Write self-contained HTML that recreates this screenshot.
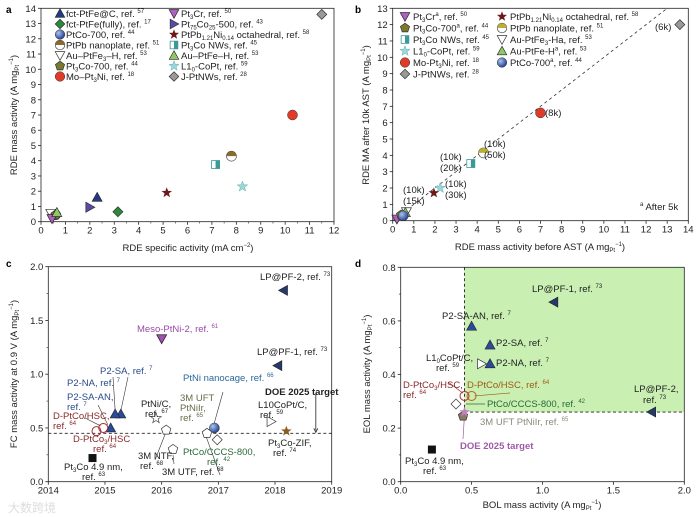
<!DOCTYPE html>
<html><head><meta charset="utf-8"><style>
html,body{margin:0;padding:0;background:#fff;}
svg{display:block;font-family:"Liberation Sans","Noto Sans CJK SC",sans-serif;}
.t{font-size:9.5px;fill:#222}
.tk{font-size:9.5px;fill:#222}
.lg{font-size:9.5px;fill:#222}
.s{font-size:6px}
</style></head><body>
<svg id="fig" width="700" height="517" viewBox="0 0 700 517" xmlns="http://www.w3.org/2000/svg">
<defs>
<radialGradient id="gBlue" cx="35%" cy="35%" r="70%"><stop offset="0" stop-color="#a8c4f0"/><stop offset="1" stop-color="#1f3a8a"/></radialGradient>
</defs>
<text x="6" y="13" font-size="10" font-weight="bold">a</text>
<text x="355" y="13" font-size="10" font-weight="bold">b</text>
<text x="6" y="267" font-size="10" font-weight="bold">c</text>
<text x="355" y="267" font-size="10" font-weight="bold">d</text>

<g id="dBg"></g>
<g id="axes"></g>
<g id="marks"></g>

<text class="t" x="188" y="251" text-anchor="middle">RDE specific activity (mA cm<tspan class="s" dy="-4">−2</tspan><tspan dy="4">)</tspan></text>
<text class="t" transform="translate(17,115) rotate(-90)" text-anchor="middle">RDE mass activity (A mg<tspan class="s" dy="2">Pt</tspan><tspan class="s" dy="-6">−1</tspan><tspan dy="4">)</tspan></text>
<text class="t" x="540" y="250" text-anchor="middle">RDE mass activity before AST (A mg<tspan class="s" dy="2">Pt</tspan><tspan class="s" dy="-6">−1</tspan><tspan dy="4">)</tspan></text>
<text class="t" transform="translate(369,115) rotate(-90)" text-anchor="middle">RDE MA after 10k AST (A mg<tspan class="s" dy="2">Pt</tspan><tspan class="s" dy="-6">−1</tspan><tspan dy="4">)</tspan></text>
<text class="t" transform="translate(17,374) rotate(-90)" text-anchor="middle">FC mass activity at 0.9 V (A mg<tspan class="s" dy="2">Pt</tspan><tspan class="s" dy="-6">−1</tspan><tspan dy="4">)</tspan></text>
<text class="t" x="542" y="508" text-anchor="middle">BOL mass activity (A mg<tspan class="s" dy="2">Pt</tspan><tspan class="s" dy="-6">−1</tspan><tspan dy="4">)</tspan></text>
<text class="t" transform="translate(370,374) rotate(-90)" text-anchor="middle">EOL mass activity (A mg<tspan class="s" dy="2">Pt</tspan><tspan class="s" dy="-6">−1</tspan><tspan dy="4">)</tspan></text>

<g class="lg">
<text x="66" y="17">fct-PtFe@C, ref. <tspan class="s" dy="-4">57</tspan></text>
<text x="66" y="27.5">fct-PtFe(fully), ref. <tspan class="s" dy="-4">17</tspan></text>
<text x="66" y="38">PtCo-700, ref. <tspan class="s" dy="-4">44</tspan></text>
<text x="66" y="48.5">PtPb nanoplate, ref. <tspan class="s" dy="-4">51</tspan></text>
<text x="66" y="59">Au–PtFe<tspan class="s" dy="2">3</tspan><tspan dy="-2">–H, ref. </tspan><tspan class="s" dy="-4">53</tspan></text>
<text x="66" y="69.5">Pt<tspan class="s" dy="2">3</tspan><tspan dy="-2">Co-700, ref. </tspan><tspan class="s" dy="-4">44</tspan></text>
<text x="66" y="80">Mo–Pt<tspan class="s" dy="2">3</tspan><tspan dy="-2">Ni, ref. </tspan><tspan class="s" dy="-4">18</tspan></text>
<text x="181" y="17">Pt<tspan class="s" dy="2">3</tspan><tspan dy="-2">Cr, ref. </tspan><tspan class="s" dy="-4">50</tspan></text>
<text x="181" y="27.5">Pt<tspan class="s" dy="2">75</tspan><tspan dy="-2">Co</tspan><tspan class="s" dy="2">25</tspan><tspan dy="-2">-500, ref. </tspan><tspan class="s" dy="-4">43</tspan></text>
<text x="181" y="38">PtPb<tspan class="s" dy="2">1.21</tspan><tspan dy="-2">Ni</tspan><tspan class="s" dy="2">0.14</tspan><tspan dy="-2"> octahedral, ref. </tspan><tspan class="s" dy="-4">58</tspan></text>
<text x="181" y="48.5">Pt<tspan class="s" dy="2">3</tspan><tspan dy="-2">Co NWs, ref. </tspan><tspan class="s" dy="-4">45</tspan></text>
<text x="181" y="59">Au–PtFe–H, ref. <tspan class="s" dy="-4">53</tspan></text>
<text x="181" y="69.5">L1<tspan class="s" dy="2">0</tspan><tspan dy="-2">-CoPt, ref. </tspan><tspan class="s" dy="-4">59</tspan></text>
<text x="181" y="80">J-PtNWs, ref. <tspan class="s" dy="-4">28</tspan></text>
</g>
<g class="lg">
<text x="413" y="20">Pt<tspan class="s" dy="2">3</tspan><tspan dy="-2">Cr</tspan><tspan class="s" dy="-4">a</tspan><tspan dy="4">, ref. </tspan><tspan class="s" dy="-4">50</tspan></text>
<text x="413" y="31.5">Pt<tspan class="s" dy="2">3</tspan><tspan dy="-2">Co-700</tspan><tspan class="s" dy="-4">a</tspan><tspan dy="4">, ref. </tspan><tspan class="s" dy="-4">44</tspan></text>
<text x="413" y="43">Pt<tspan class="s" dy="2">3</tspan><tspan dy="-2">Co NWs, ref. </tspan><tspan class="s" dy="-4">45</tspan></text>
<text x="413" y="54.5">L1<tspan class="s" dy="2">0</tspan><tspan dy="-2">-CoPt, ref. </tspan><tspan class="s" dy="-4">59</tspan></text>
<text x="413" y="66">Mo-Pt<tspan class="s" dy="2">3</tspan><tspan dy="-2">Ni, ref. </tspan><tspan class="s" dy="-4">18</tspan></text>
<text x="413" y="77.5">J-PtNWs, ref. <tspan class="s" dy="-4">28</tspan></text>
<text x="510" y="20">PtPb<tspan class="s" dy="2">1.21</tspan><tspan dy="-2">Ni</tspan><tspan class="s" dy="2">0.14</tspan><tspan dy="-2"> octahedral, ref. </tspan><tspan class="s" dy="-4">58</tspan></text>
<text x="510" y="31.5">PtPb nanoplate, ref. <tspan class="s" dy="-4">51</tspan></text>
<text x="510" y="43">Au-PtFe<tspan class="s" dy="2">3</tspan><tspan dy="-2">-Ha, ref. </tspan><tspan class="s" dy="-4">53</tspan></text>
<text x="510" y="54.5">Au-PtFe-H<tspan class="s" dy="-4">a</tspan><tspan dy="4">, ref. </tspan><tspan class="s" dy="-4">53</tspan></text>
<text x="510" y="66">PtCo-700<tspan class="s" dy="-4">a</tspan><tspan dy="4">, ref. </tspan><tspan class="s" dy="-4">44</tspan></text>
</g>
<g class="lg">
<text x="545" y="116">(8k)</text>
<text x="655" y="30">(6k)</text>
<text x="484" y="147">(10k)</text><text x="484" y="158">(50k)</text>
<text x="440" y="160">(10k)</text><text x="440" y="171">(20k)</text>
<text x="445" y="187">(10k)</text><text x="445" y="198">(30k)</text>
<text x="403" y="193">(10k)</text><text x="403" y="204">(15k)</text>
<text x="640" y="210"><tspan class="s" dy="-4">a</tspan><tspan dy="4"> After 5k</tspan></text>
</g>
<g class="lg">
<text x="260" y="280">LP@PF-2, ref. <tspan class="s" dy="-4">73</tspan></text>
<text x="257" y="355">LP@PF-1, ref. <tspan class="s" dy="-4">73</tspan></text>
<text x="137" y="332" fill="#9a4aa8">Meso-PtNi-2, ref. <tspan class="s" dy="-4">61</tspan></text>
<text x="100" y="374" fill="#2a4a8a">P2-SA, ref. <tspan class="s" dy="-4">7</tspan></text>
<text x="67" y="386" fill="#2a4a8a">P2-NA, ref. <tspan class="s" dy="-4">7</tspan></text>
<text x="67" y="400" fill="#2a4a8a">P2-SA-AN,</text><text x="67" y="410" fill="#2a4a8a">ref. <tspan class="s" dy="-4">7</tspan></text>
<text x="53" y="419" fill="#8a2a2a">D-PtCo/HSC,</text><text x="53" y="429" fill="#8a2a2a">ref. <tspan class="s" dy="-4">64</tspan></text>
<text x="73" y="442" fill="#8a2a2a">D-PtCo<tspan class="s" dy="2">3</tspan><tspan dy="-2">/HSC</tspan></text><text x="93" y="452" fill="#8a2a2a">ref. <tspan class="s" dy="-4">64</tspan></text>
<text x="64" y="470">Pt<tspan class="s" dy="2">3</tspan><tspan dy="-2">Co 4.9 nm,</tspan></text><text x="82" y="480">ref. <tspan class="s" dy="-4">63</tspan></text>
<text x="141" y="407">PtNi/C,</text><text x="145" y="417">ref. <tspan class="s" dy="-4">67</tspan></text>
<text x="138" y="459">3M NTF,</text><text x="140" y="469">ref. <tspan class="s" dy="-4">68</tspan></text>
<text x="162" y="475">3M UTF, ref. <tspan class="s" dy="-4">68</tspan></text>
<text x="180" y="401" fill="#6a6a4a">3M UFT</text><text x="180" y="411" fill="#6a6a4a">PtNiIr,</text><text x="180" y="421" fill="#6a6a4a">ref. <tspan class="s" dy="-4">65</tspan></text>
<text x="183" y="381" fill="#2a6a9a">PtNi nanocage, ref. <tspan class="s" dy="-4">66</tspan></text>
<text x="183" y="455" fill="#2a6a3a">PtCo/CCCS-800,</text><text x="207" y="465" fill="#2a6a3a">ref. <tspan class="s" dy="-4">42</tspan></text>
<text x="265" y="395" font-weight="bold">DOE 2025 target</text>
<text x="258" y="408">L10CoPt/C,</text><text x="260" y="418">ref. <tspan class="s" dy="-4">59</tspan></text>
<text x="268" y="446">Pt<tspan class="s" dy="2">3</tspan><tspan dy="-2">Co-ZIF,</tspan></text><text x="273" y="456">ref. <tspan class="s" dy="-4">74</tspan></text>
</g>
<g class="lg">
<text x="532" y="292">LP@PF-1, ref. <tspan class="s" dy="-4">73</tspan></text>
<text x="442" y="319">P2-SA-AN, ref. <tspan class="s" dy="-4">7</tspan></text>
<text x="496" y="346">P2-SA, ref. <tspan class="s" dy="-4">7</tspan></text>
<text x="496" y="366">P2-NA, ref. <tspan class="s" dy="-4">7</tspan></text>
<text x="426" y="361">L1<tspan class="s" dy="2">0</tspan><tspan dy="-2">CoPt/C,</tspan></text><text x="436" y="371">ref. <tspan class="s" dy="-4">59</tspan></text>
<text x="403" y="388" fill="#8a2a2a">D-PtCo<tspan class="s" dy="2">3</tspan><tspan dy="-2">/HSC,</tspan></text><text x="403" y="398" fill="#8a2a2a">ref. <tspan class="s" dy="-4">64</tspan></text>
<text x="467" y="388" fill="#a05a10">D-PtCo/HSC, ref. <tspan class="s" dy="-4">64</tspan></text>
<text x="487" y="407" fill="#2a6a3a">PtCo/CCCS-800, ref. <tspan class="s" dy="-4">42</tspan></text>
<text x="480" y="425" fill="#8a8a7a">3M UFT PtNiIr, ref. <tspan class="s" dy="-4">65</tspan></text>
<text x="460" y="449" fill="#a05aa8" font-weight="bold">DOE 2025 target</text>
<text x="634" y="392">LP@PF-2,</text><text x="643" y="403">ref. <tspan class="s" dy="-4">73</tspan></text>
<text x="405" y="464">Pt<tspan class="s" dy="2">3</tspan><tspan dy="-2">Co 4.9 nm,</tspan></text><text x="423" y="474">ref. <tspan class="s" dy="-4">63</tspan></text>
</g>
<text x="8" y="512" font-size="12" fill="#ddd">大数跨境</text>
</svg>
<script>
var aXTicks=[0,1,2,3,4,5,6,7,8,9,10,11,12];
var aYTicks=[0,1,2,3,4,5,6,7,8,9,10,11,12,13,14];
var aNames=["fct-PtFe@C","fct-PtFe(fully)","PtCo-700","PtPb nanoplate","Au-PtFe3-H","Pt3Co-700","Mo-Pt3Ni","Pt3Cr","Pt75Co25-500","PtPb1.21Ni0.14","Pt3Co NWs","Au-PtFe-H","L10-CoPt","J-PtNWs"];
var aX=[2.3,3.15,0.6,7.8,0.4,0.6,10.3,0.45,2.0,5.15,7.15,0.65,8.25,11.5];
var aY=[1.6,0.65,0.45,4.3,0.55,0.45,7.0,0.2,0.95,1.9,3.75,0.6,2.3,13.6];

var bXTicks=[0,1,2,3,4,5,6,7,8,9,10,11,12,13,14];
var bYTicks=[0,1,2,3,4,5,6,7,8,9,10,11,12,13];
var bNames=["Pt3Cr","Pt3Co-700","Pt3Co NWs","L10-CoPt","Mo-Pt3Ni","J-PtNWs","PtPb1.21Ni0.14","PtPb nanoplate","Au-PtFe3-Ha","Au-PtFe-H","PtCo-700"];
var bX=[0.2,0.4,3.7,2.25,7.0,13.6,1.95,4.3,0.65,0.6,0.5];
var bY=[0.1,0.35,3.5,2.0,6.6,12.0,1.7,4.15,0.55,0.5,0.3];

var cXTicks=[2014,2015,2016,2017,2018,2019];
var cYTicks=[0,0.5,1.0,1.5,2.0];
var cNames=["LP@PF-2","LP@PF-1","Meso-PtNi-2","P2-SA","P2-NA","P2-SA-AN","D-PtCo/HSC","D-PtCo3/HSC","Pt3Co 4.9nm","PtNi/C","3M NTF","3M UTF","3M UFT PtNiIr","PtNi nanocage","PtCo/CCCS-800","L10CoPt/C","Pt3Co-ZIF"];
var cX=[2018.15,2018.05,2016.0,2015.28,2015.18,2015.1,2014.97,2014.85,2014.78,2015.9,2016.08,2016.2,2016.8,2016.93,2016.98,2017.93,2018.2];
var cY=[1.78,1.08,1.33,0.63,0.63,0.5,0.5,0.47,0.22,0.59,0.48,0.3,0.45,0.5,0.39,0.56,0.47];
var cTarget=0.45;

var dXTicks=[0,0.5,1.0,1.5,2.0];
var dYTicks=[0,0.2,0.4,0.6,0.8];
var dNames=["LP@PF-1","LP@PF-2","P2-SA-AN","P2-SA","P2-NA","L10CoPt/C","D-PtCo3/HSC","D-PtCo/HSC","PtCo/CCCS-800","3M UFT PtNiIr","DOE 2025 target","Pt3Co 4.9nm"];
var dX=[1.08,1.77,0.5,0.63,0.63,0.57,0.45,0.5,0.39,0.44,0.45,0.22];
var dY=[0.67,0.26,0.58,0.51,0.44,0.44,0.32,0.32,0.29,0.245,0.26,0.12];
var dTargetX=0.45, dTargetY=0.26;

var aStyle=[["tu","#253a85"],["di","#2a8a3a"],["ci","url(#gBlue)"],["half","#8a6a30"],["td","#fff"],["pent","#7a7a2a"],["ci","#e03a28"],["td","#b060c0"],["tr","#5a4aa8"],["star","#6a1a1a"],["hsq","#3a9a9a"],["tu","#90c868"],["star","#9ad8d8"],["di","#999"]];
var bStyle=[["td","#b060c0"],["pent","#7a7a2a"],["hsq","#3a9a9a"],["star","#9ad8d8"],["ci","#e03a28"],["di","#999"],["star","#6a1a1a"],["half","#b8b030"],["td","#fff"],["tu","#90c868"],["ci","url(#gBlue)"]];
var cStyle=[["tl","#253a6a"],["tl","#253a6a"],["td","#a050b0"],["tu","#2a4a9a"],["tu","#2a4a9a"],["tu","#2a4a9a"],["oci","#a03030"],["oci","#a03030"],["sq","#111"],["ostar","#444"],["pent","#fff"],["pent","#fff"],["pent","#fff"],["ci","url(#gBlue)"],["di","#fff"],["tr","#fff"],["star","#8a5a20"]];
var dStyle=[["tl","#253a6a"],["tl","#253a6a"],["tu","#2a4a9a"],["tu","#2a4a9a"],["tu","#2a4a9a"],["tr","#fff"],["oci","#b03030"],["oci","#c06020"],["di","#fff"],["pent","#8a7a60"],["star","#c080c0"],["sq","#111"]];

var NS="http://www.w3.org/2000/svg";
function mk(tag,attrs,parent){var e=document.createElementNS(NS,tag);for(var k in attrs)e.setAttribute(k,attrs[k]);parent.appendChild(e);return e;}
function scale(d0,d1,p0,p1){return function(v){return p0+(v-d0)*(p1-p0)/(d1-d0);};}
function starPts(cx,cy,R,r){var p=[];for(var i=0;i<10;i++){var a=-Math.PI/2+i*Math.PI/5,rr=i%2?r:R;p.push((cx+rr*Math.cos(a)).toFixed(1)+","+(cy+rr*Math.sin(a)).toFixed(1));}return p.join(" ");}
function marker(g,shape,x,y,fill,s){
  s=s||5;var st="#222",e;
  if(shape=="tu")e=mk("polygon",{points:[x,y-s,x+s,y+s*0.8,x-s,y+s*0.8].join(" "),fill:fill,stroke:st,"stroke-width":0.6},g);
  else if(shape=="td")e=mk("polygon",{points:[x-s,y-s*0.8,x+s,y-s*0.8,x,y+s].join(" "),fill:fill,stroke:fill=="#fff"?"#333":st,"stroke-width":0.7},g);
  else if(shape=="tr")e=mk("polygon",{points:[x-s*0.8,y-s,x+s,y,x-s*0.8,y+s].join(" "),fill:fill,stroke:"#333","stroke-width":0.7},g);
  else if(shape=="tl")e=mk("polygon",{points:[x+s*0.8,y-s,x-s,y,x+s*0.8,y+s].join(" "),fill:fill,stroke:st,"stroke-width":0.6},g);
  else if(shape=="di")e=mk("polygon",{points:[x,y-s,x+s,y,x,y+s,x-s,y].join(" "),fill:fill,stroke:"#333","stroke-width":0.7},g);
  else if(shape=="ci")e=mk("circle",{cx:x,cy:y,r:s,fill:fill,stroke:"#333","stroke-width":0.5},g);
  else if(shape=="oci")e=mk("circle",{cx:x,cy:y,r:s*0.9,fill:"none",stroke:fill,"stroke-width":1},g);
  else if(shape=="sq")e=mk("rect",{x:x-s*0.8,y:y-s*0.8,width:s*1.6,height:s*1.6,fill:fill},g);
  else if(shape=="hsq"){e=mk("rect",{x:x-s*0.8,y:y-s*0.8,width:s*1.6,height:s*1.6,fill:"#fff",stroke:fill,"stroke-width":0.8},g);mk("rect",{x:x,y:y-s*0.8,width:s*0.8,height:s*1.6,fill:fill},g);}
  else if(shape=="star")e=mk("polygon",{points:starPts(x,y,s*1.1,s*0.45),fill:fill,stroke:fill=="#9ad8d8"?"#6ab0b0":"none","stroke-width":0.5},g);
  else if(shape=="ostar")e=mk("polygon",{points:starPts(x,y,s*1.1,s*0.45),fill:"#fff",stroke:fill,"stroke-width":0.7},g);
  else if(shape=="pent"){var p=[];for(var i=0;i<5;i++){var a=-Math.PI/2+i*2*Math.PI/5;p.push((x+s*Math.cos(a)).toFixed(1)+","+(y+s*Math.sin(a)).toFixed(1));}e=mk("polygon",{points:p.join(" "),fill:fill,stroke:"#333","stroke-width":0.7},g);}
  else if(shape=="half"){e=mk("circle",{cx:x,cy:y,r:s,fill:"#fff",stroke:"#333","stroke-width":0.6},g);mk("path",{d:"M"+(x-s)+","+y+" A"+s+","+s+" 0 0 1 "+(x+s)+","+y+" Z",fill:fill},g);}
  return e;
}
function axes(id,X,Y,xt,yt,xfmt,yfmt,minorX,minorY){
  var g=mk("g",{},document.getElementById("axes"));
  
  
  var x0=X(xt[0]),x1=X(xt[xt.length-1]),y0=Y(yt[0]),y1=Y(yt[yt.length-1]);
  mk("rect",{x:x0,y:y1,width:x1-x0,height:y0-y1,fill:"none",stroke:"#222","stroke-width":0.8},g);
  xt.forEach(function(v){var px=X(v);mk("line",{x1:px,y1:y0,x2:px,y2:y0+3,stroke:"#222","stroke-width":0.8},g);
    var t=mk("text",{x:px,y:y0+12,"text-anchor":"middle","class":"tk"},g);t.textContent=xfmt(v);
    });
  yt.forEach(function(v){var py=Y(v);mk("line",{x1:x0,y1:py,x2:x0-3,y2:py,stroke:"#222","stroke-width":0.8},g);
    var t=mk("text",{x:x0-5,y:py+3.5,"text-anchor":"end","class":"tk"},g);t.textContent=yfmt(v);
    });
  if(minorX)for(var i=0;i<xt.length-1;i++){var m=X((xt[i]+xt[i+1])/2);mk("line",{x1:m,y1:y0,x2:m,y2:y0+1.8,stroke:"#222","stroke-width":0.6},g);}
  if(minorY)for(var i=0;i<yt.length-1;i++){var m=Y((yt[i]+yt[i+1])/2);mk("line",{x1:x0,y1:m,x2:x0-1.8,y2:m,stroke:"#222","stroke-width":0.6},g);}
}
function series(id,X,Y,xs,ys,styles,names,s){
  var g=mk("g",{},document.getElementById("marks"));
  
  
  for(var i=0;i<xs.length;i++){var e=marker(g,styles[i][0],X(xs[i]),Y(ys[i]),styles[i][1],s);
    
    }
}
function legendMarks(id,xs,ys,styles){
  var g=mk("g",{},document.getElementById("marks"));
  
  
  for(var i=0;i<xs.length;i++){var e=marker(g,styles[i][0],xs[i],ys[i],styles[i][1],4.8);
    }
}
var f0=function(v){return String(v);}, f1=function(v){return v.toFixed(1);};

var aXs=scale(0,12,41,334), aYs=scale(0,14,221.7,8.3);
axes("a",aXs,aYs,aXTicks,aYTicks,f0,f0,true,false);
series("a",aXs,aYs,aX,aY,aStyle,aNames,5);
legendMarks("legend-a",[60,60,60,60,60,60,60,174,174,174,174,174,174,174],[13.5,24,34.5,45,55.5,66,76.5,13.5,24,34.5,45,55.5,66,76.5],aStyle);

var bXs=scale(0,14,392.7,688.3), bYs=scale(0,13,220.7,8.3);
axes("b",bXs,bYs,bXTicks,bYTicks,f0,f0,false,false);
(function(){var l=mk("line",{x1:bXs(0),y1:bYs(0),x2:bXs(13),y2:bYs(13),stroke:"#333","stroke-width":0.8,"stroke-dasharray":"3,3"},document.getElementById("axes"));
})();
series("b",bXs,bYs,bX,bY,bStyle,bNames,5);
legendMarks("legend-b",[405,405,405,405,405,405,502,502,502,502,502],[16.5,28,39.5,51,62.5,74,16.5,28,39.5,51,62.5],bStyle);

var cXs=scale(2014,2019,48.3,331.7), cYs=scale(0,2,481.7,266.7);
axes("c",cXs,cYs,cXTicks,cYTicks,f0,f1,false,true);
(function(){var ax=document.getElementById("axes");
var l=mk("line",{x1:cXs(2014),y1:cYs(cTarget),x2:cXs(2019),y2:cYs(cTarget),stroke:"#222","stroke-width":0.9,"stroke-dasharray":"3,2.5"},ax);

var a=mk("path",{d:"M"+cXs(2018.72)+","+cYs(0.83)+" V"+(cYs(cTarget)-3)+" M"+(cXs(2018.72)-2)+","+(cYs(cTarget)-5)+" L"+cXs(2018.72)+","+(cYs(cTarget)-1)+" L"+(cXs(2018.72)+2)+","+(cYs(cTarget)-5),stroke:"#222",fill:"none","stroke-width":0.8},ax);

var arr=[[113,377,cXs(2015.18),cYs(0.66)],[128,377,cXs(2015.28),cYs(0.66)],[98,405,cXs(2015.05),cYs(0.53)],[85,418,cXs(2014.92),cYs(0.52)],[155,460,cXs(2016.06),cYs(0.44)],[174,464,cXs(2016.2),cYs(0.25)],[220,475,cXs(2016.75),cYs(0.47)],[223,392,cXs(2016.92),cYs(0.53)]];
arr.forEach(function(p){var e=mk("line",{x1:p[0],y1:p[1],x2:p[2],y2:p[3],stroke:"#333","stroke-width":0.6},ax);});
})();
series("c",cXs,cYs,cX,cY,cStyle,cNames,5);

var dXs=scale(0,2,400.7,684.3), dYs=scale(0,0.8,481.7,267.3);
(function(){var bg=document.getElementById("dBg");
var r=mk("rect",{x:dXs(dTargetX),y:dYs(0.8),width:dXs(2)-dXs(dTargetX),height:dYs(dTargetY)-dYs(0.8),fill:"#c9efb3"},bg);

var l1=mk("line",{x1:dXs(dTargetX),y1:dYs(0.8),x2:dXs(dTargetX),y2:dYs(dTargetY),stroke:"#222","stroke-width":0.9,"stroke-dasharray":"3,2.5"},bg);

var l2=mk("line",{x1:dXs(dTargetX),y1:dYs(dTargetY),x2:dXs(2),y2:dYs(dTargetY),stroke:"#222","stroke-width":0.9,"stroke-dasharray":"3,2.5"},bg);

var arr=[[510,393,dXs(0.52),dYs(0.32),"#a05a10"],[485,404,dXs(0.46),dYs(0.29),"#2a6a3a"],[463,439,dXs(0.45),dYs(0.25),"#a05aa8"],[448,382,dXs(0.44),dYs(0.33),"#8a2a2a"]];
arr.forEach(function(p){var e=mk("line",{x1:p[0],y1:p[1],x2:p[2],y2:p[3],stroke:p[4],"stroke-width":0.7},bg);});
})();
axes("d",dXs,dYs,dXTicks,dYTicks,f1,f1,false,true);
series("d",dXs,dYs,dX,dY,dStyle,dNames,5);
</script>
</body></html>
